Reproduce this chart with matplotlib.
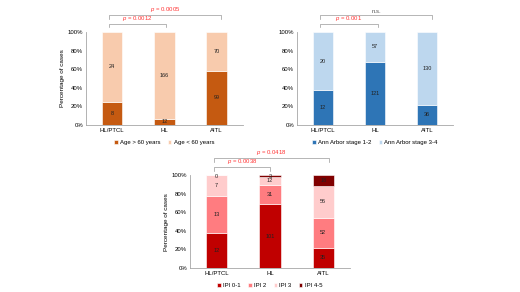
import matplotlib
matplotlib.use("Agg")
import matplotlib.pyplot as plt
import numpy as np

plt.rcParams['font.family'] = ['Liberation Sans', 'DejaVu Sans']
plt.rcParams['mathtext.fontset'] = 'custom'
plt.rcParams['mathtext.it'] = 'Liberation Sans:italic'
plt.rcParams['mathtext.rm'] = 'Liberation Sans'

categories = ["HL/PTCL", "HL", "AITL"]

# Chart 1: age
age_labels = ["Age > 60 years", "Age < 60 years"]
age_over60 = [8, 12, 99]
age_under60 = [24, 166, 70]

# Chart 2: Ann Arbor stage
stage_labels = ["Ann Arbor stage 1-2", "Ann Arbor stage 3-4"]
stage_12 = [12, 121, 36]
stage_34 = [20, 57, 130]

# Chart 3: IPI
ipi_labels = ["IPI 0-1", "IPI 2", "IPI 3", "IPI 4-5"]
ipi_01 = [12, 101, 35]
ipi_2 = [13, 31, 52]
ipi_3 = [7, 12, 56]
ipi_45 = [0, 3, 18]

yticks = [0, 20, 40, 60, 80, 100]
ytick_labels = ["0%", "20%", "40%", "60%", "80%", "100%"]

fig = plt.figure(figsize=(5.2, 2.92), dpi=100)

FS = 4.3
SPINE = '#A6A6A6'


def stacked(ax, series, colors, labels, ylabel, legend_x):
    series = [np.array(s, dtype=float) for s in series]
    total = sum(series)
    x = np.arange(len(categories))
    bottom = np.zeros(len(categories))
    handles = []
    for s, c, lab in zip(series, colors, labels):
        pct = s / total * 100
        h = ax.bar(x, pct, bottom=bottom, width=0.4, color=c, edgecolor='white', linewidth=0.4, label=lab)
        handles.append(h)
        for i in range(len(x)):
            yc = bottom[i] + pct[i] / 2
            if pct[i] < 3:
                yc = min(bottom[i] + pct[i] / 2, 99)
            ax.text(x[i], yc, str(int(s[i])), ha='center', va='center', fontsize=FS - 0.3, color='#222222')
        bottom += pct
    ax.set_xlim(-0.5, len(categories) - 0.5)
    ax.set_ylim(0, 100)
    ax.set_yticks(yticks)
    ax.set_yticklabels(ytick_labels, fontsize=FS)
    ax.set_xticks(x)
    ax.set_xticklabels(categories, fontsize=FS)
    ax.tick_params(length=0, pad=2)
    for sp in ['top', 'right']:
        ax.spines[sp].set_visible(False)
    for sp in ['left', 'bottom']:
        ax.spines[sp].set_color(SPINE)
        ax.spines[sp].set_linewidth(0.6)
    if ylabel:
        ax.set_ylabel(ylabel, fontsize=FS + 0.3, labelpad=2)
    ax.legend(handles=handles, loc='upper center', bbox_to_anchor=(legend_x, -0.13), ncol=len(labels),
              frameon=False, fontsize=FS, handlelength=0.6, handleheight=0.6, handletextpad=0.4,
              columnspacing=1.2, borderpad=0)
    return ax


def bracket(ax, x0, x1, y, text, color, tick=3.5):
    ax.plot([x0, x0, x1, x1], [y - tick, y, y, y - tick], color='#999999', lw=0.5, clip_on=False)
    ax.text((x0 + x1) / 2, y + 1.5, text, ha='center', va='bottom', fontsize=FS, color=color, clip_on=False)


def ptext(p):
    return r"$\it{p}$ = " + p


ax1 = fig.add_axes([0.165, 0.572, 0.302, 0.318])
stacked(ax1, [age_over60, age_under60], ['#C55A11', '#F8CBAD'], age_labels, "Percentage of cases", 0.5)
bracket(ax1, -0.06, 1.03, 108.5, ptext("0.0012"), '#FF3333')
bracket(ax1, -0.06, 2.08, 118, ptext("0.0005"), '#FF3333')

ax2 = fig.add_axes([0.571, 0.572, 0.300, 0.318])
stacked(ax2, [stage_12, stage_34], ['#2E75B6', '#BDD7EE'], stage_labels, None, 0.5)
bracket(ax2, -0.05, 1.05, 108.5, ptext("0.001"), '#FF3333')
bracket(ax2, -0.05, 2.1, 118, "n.s.", '#555555')

ax3 = fig.add_axes([0.365, 0.082, 0.308, 0.318])
stacked(ax3, [ipi_01, ipi_2, ipi_3, ipi_45], ['#C00000', '#FF7C80', '#FFCCCC', '#800000'], ipi_labels,
        "Percentage of cases", 0.5)
bracket(ax3, -0.05, 1.0, 108.5, ptext("0.0038"), '#FF3333')
bracket(ax3, -0.05, 2.1, 118, ptext("0.0418"), '#FF3333')

fig.savefig("out.png", dpi=100)
